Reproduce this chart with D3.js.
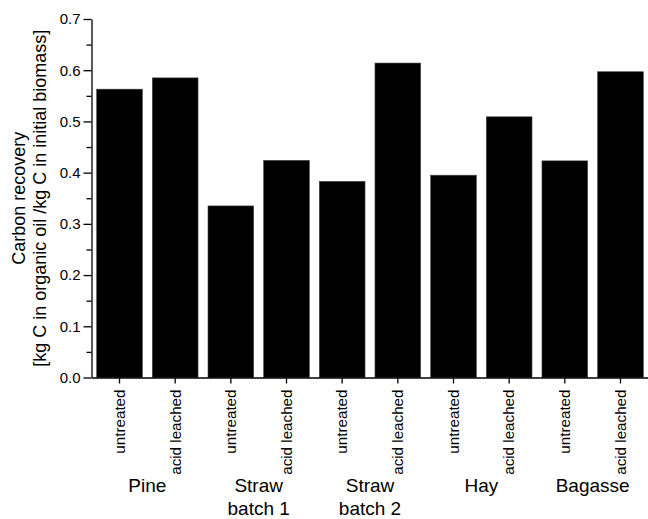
<!DOCTYPE html>
<html>
<head>
<meta charset="utf-8">
<script src="https://cdn.jsdelivr.net/npm/d3@7"></script>
<style>
  html, body { margin: 0; padding: 0; background: #fff; }
  text { font-family: "Liberation Sans", Arial, sans-serif; fill: #000; }
</style>
</head>
<body>
<svg id="chart" width="648" height="519"></svg>
<script>
// Feedstocks and treatments
const groups = [["Pine"], ["Straw", "batch 1"], ["Straw", "batch 2"], ["Hay"], ["Bagasse"]];
const treatments = ["untreated", "acid leached"];
// Carbon recovery, kg C in organic oil per kg C in initial biomass (untreated, acid leached per feedstock)
const recovery = [0.563, 0.585, 0.335, 0.424, 0.383, 0.614, 0.395, 0.509, 0.423, 0.597];
const yTicks = [0.0, 0.1, 0.2, 0.3, 0.4, 0.5, 0.6, 0.7];
const yMinorTicks = [0.05, 0.15, 0.25, 0.35, 0.45, 0.55, 0.65];

const bars = recovery.map((v, i) => ({
  id: i,
  group: Math.floor(i / 2),
  treatment: treatments[i % 2],
  value: v
}));

const svg = d3.select("#chart");
const plotLeft = 91.5, plotRight = 648.5, plotTop = 19, plotBottom = 377.5;

const x = d3.scaleBand()
  .domain(bars.map(d => d.id))
  .range([plotLeft, plotRight])
  .paddingInner(0.179)
  .paddingOuter(0.093);

const y = d3.scaleLinear().domain([0, 0.7]).range([plotBottom, plotTop]);

// Bars
svg.append("g")
  .selectAll("rect")
  .data(bars)
  .join("rect")
  .attr("x", d => x(d.id))
  .attr("width", x.bandwidth())
  .attr("y", d => y(d.value))
  .attr("height", d => y(0) - y(d.value))
  .attr("fill", "#000")
  .attr("stroke", "#444")
  .attr("stroke-width", 0.6);

// Y axis: major ticks with labels, minor ticks without
const yAxis = svg.append("g")
  .attr("transform", `translate(${plotLeft},0)`)
  .call(d3.axisLeft(y).tickValues(yTicks).tickFormat(d3.format(".1f")).tickSize(8).tickSizeOuter(0).tickPadding(3));
yAxis.select(".domain").attr("stroke-width", 1.3);
yAxis.selectAll(".tick line").attr("stroke-width", 1.3);
yAxis.selectAll(".tick text").attr("font-size", 15).attr("font-family", "Liberation Sans, Arial, sans-serif");

svg.append("g")
  .attr("transform", `translate(${plotLeft},0)`)
  .call(d3.axisLeft(y).tickValues(yMinorTicks).tickFormat("").tickSize(5).tickSizeOuter(0))
  .call(g => g.select(".domain").remove())
  .selectAll(".tick line").attr("stroke-width", 1.3);

// X axis: one tick per bar with rotated treatment label
const xAxis = svg.append("g")
  .attr("transform", `translate(0,${plotBottom})`)
  .call(d3.axisBottom(x).tickFormat(i => bars[i].treatment).tickSize(6).tickSizeOuter(0));
xAxis.select(".domain").attr("stroke-width", 1.3);
xAxis.selectAll(".tick line").attr("stroke-width", 1.3);
xAxis.selectAll(".tick text")
  .attr("font-size", 15.2)
  .attr("font-family", "Liberation Sans, Arial, sans-serif")
  .attr("transform", "rotate(-90)")
  .attr("text-anchor", "end")
  .attr("x", -12)
  .attr("y", 0)
  .attr("dy", "0.35em");

// Feedstock labels centred under each pair of bars
svg.append("g")
  .selectAll("text")
  .data(groups)
  .join("text")
  .attr("font-size", 19)
  .attr("text-anchor", "middle")
  .attr("transform", (d, g) => {
    const cx = (x(2 * g) + x(2 * g + 1) + x.bandwidth()) / 2;
    return `translate(${cx},492)`;
  })
  .selectAll("tspan")
  .data(d => d)
  .join("tspan")
  .attr("x", 0)
  .attr("dy", (d, i) => i === 0 ? 0 : 23)
  .text(d => d);

// Y axis title
const yTitle = svg.append("text")
  .attr("font-size", 18)
  .attr("text-anchor", "middle")
  .attr("transform", `translate(0,${(plotTop + plotBottom) / 2}) rotate(-90)`);
yTitle.append("tspan").attr("x", 0).attr("y", 25).text("Carbon recovery");
yTitle.append("tspan").attr("x", 0).attr("y", 45.5).text("[kg C in organic oil /kg C in initial biomass]");
</script>
</body>
</html>
